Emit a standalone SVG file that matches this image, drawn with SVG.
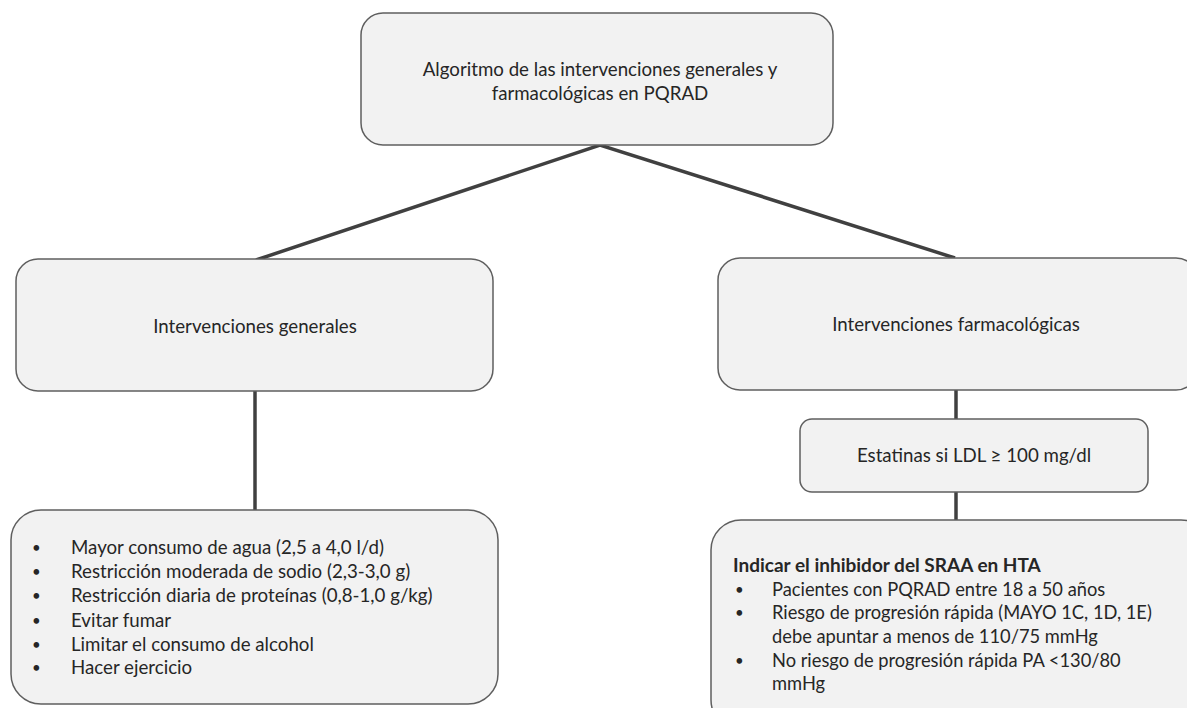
<svg xmlns="http://www.w3.org/2000/svg" width="1187" height="708" viewBox="0 0 1187 708">
<style>
.box{fill:#f2f2f2;stroke:#5f5f5f;stroke-width:1.5}
.t{font-family:Lato,"Liberation Sans",sans-serif;font-size:18.7px;fill:#262626}
.r{font-size:18.3px}
.c{text-anchor:middle}
.b{font-weight:bold;font-size:19px}
.d{font-size:15px}
.con{stroke:#404040;stroke-width:3.5;fill:none}
</style>
<rect width="1187" height="708" fill="#ffffff"/>
<g id="connectors">
<polyline class="con" points="256,260 600,145 955,258"/>
<line class="con" x1="255" y1="391" x2="255" y2="510"/>
<line class="con" x1="956" y1="390" x2="956" y2="419"/>
<line class="con" x1="956" y1="492" x2="956" y2="520"/>
</g>
<g id="top">
<rect class="box" x="361" y="13" width="472" height="132" rx="22"/>
<text class="t c" x="600" y="76">Algoritmo de las intervenciones generales y</text>
<text class="t c" x="600" y="100">farmacológicas en PQRAD</text>
</g>
<g id="generales">
<rect class="box" x="16" y="259" width="477" height="132" rx="22"/>
<text class="t c" x="255" y="333">Intervenciones generales</text>
</g>
<g id="farmacologicas">
<rect class="box" x="718" y="258" width="480" height="132" rx="22"/>
<text class="t c" x="956" y="331">Intervenciones farmacológicas</text>
</g>
<g id="estatinas">
<rect class="box" x="800" y="419" width="348" height="73" rx="12"/>
<text class="t c" x="974" y="462">Estatinas si LDL ≥ 100 mg/dl</text>
</g>
<g id="lista-generales">
<rect class="box" x="11" y="510" width="487" height="194" rx="30"/>
<text class="t d" x="32" y="553">•</text><text class="t" x="71" y="554">Mayor consumo de agua (2,5 a 4,0 l/d)</text>
<text class="t d" x="32" y="577">•</text><text class="t" x="71" y="578">Restricción moderada de sodio (2,3-3,0 g)</text>
<text class="t d" x="32" y="601">•</text><text class="t" x="71" y="602">Restricción diaria de proteínas (0,8-1,0 g/kg)</text>
<text class="t d" x="32" y="626">•</text><text class="t" x="71" y="627">Evitar fumar</text>
<text class="t d" x="32" y="650">•</text><text class="t" x="71" y="651">Limitar el consumo de alcohol</text>
<text class="t d" x="32" y="673">•</text><text class="t" x="71" y="674">Hacer ejercicio</text>
</g>
<g id="lista-sraa">
<rect class="box" x="711" y="520" width="500" height="210" rx="30"/>
<text class="t b" x="733" y="572">Indicar el inhibidor del SRAA en HTA</text>
<text class="t d" x="735" y="595">•</text><text class="t r" x="772" y="596">Pacientes con PQRAD entre 18 a 50 años</text>
<text class="t d" x="735" y="618">•</text><text class="t r" x="772" y="619">Riesgo de progresión rápida (MAYO 1C, 1D, 1E)</text>
<text class="t r" x="772" y="643">debe apuntar a menos de 110/75 mmHg</text>
<text class="t d" x="735" y="666">•</text><text class="t r" x="772" y="667">No riesgo de progresión rápida PA &lt;130/80</text>
<text class="t r" x="772" y="690">mmHg</text>
</g>
</svg>
